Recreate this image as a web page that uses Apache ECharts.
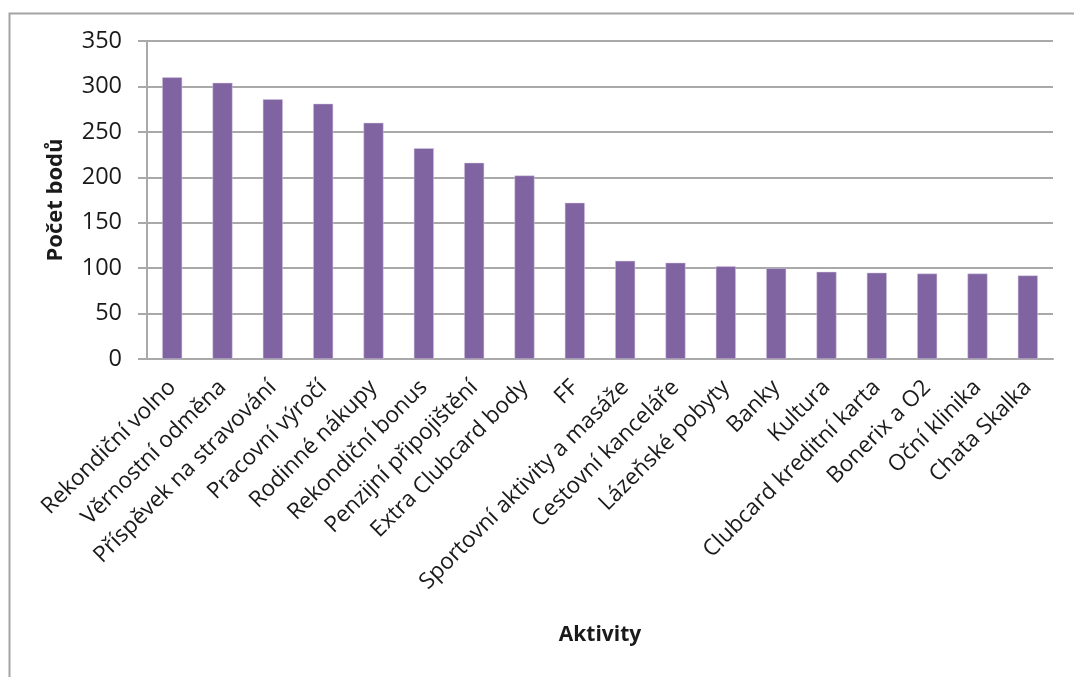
<!DOCTYPE html>
<html>
<head>
<meta charset="utf-8">
<title>Počet bodů podle aktivit</title>
<script src="https://cdn.jsdelivr.net/npm/echarts@6/dist/echarts.min.js"></script>
<style>
  html, body { margin: 0; padding: 0; background: #ffffff; }
  #chart { width: 1074px; height: 677px; }
</style>
</head>
<body>
<div id="chart"></div>
<script>
// Activities and the points each one collected
const categories = [
  'Rekondiční volno',
  'Věrnostní odměna',
  'Příspěvek na stravování',
  'Pracovní výročí',
  'Rodinné nákupy',
  'Rekondiční bonus',
  'Penzijní připojištění',
  'Extra Clubcard body',
  'FF',
  'Sportovní aktivity a masáže',
  'Cestovní kanceláře',
  'Lázeňské pobyty',
  'Banky',
  'Kultura',
  'Clubcard kreditní karta',
  'Bonerix a O2',
  'Oční klinika',
  'Chata Skalka'
];
const points = [310, 304, 286, 281, 260, 232, 216, 202, 172, 108, 106, 102, 100, 96, 95, 94, 94, 92];

// Value axis range
const yMin = 0;
const yMax = 350;
const yStep = 50;

const FONT = '"Open Sans", "Noto Sans", sans-serif';
const GRID_GREY = '#a9a9a9';
const TEXT = '#1a1a1a';

const chart = echarts.init(document.getElementById('chart'));
chart.setOption({
  animation: false,
  backgroundColor: '#ffffff',
  graphic: [{
    type: 'rect',
    left: 7,
    top: 11,
    shape: { width: 1200, height: 800 },
    style: { fill: 'none', stroke: '#a4a4a4', lineWidth: 2 },
    silent: true,
    z: -1
  }],
  grid: { left: 147, right: 21, top: 41, bottom: 318, containLabel: false },
  xAxis: {
    type: 'category',
    data: categories,
    name: 'Aktivity',
    nameLocation: 'middle',
    nameGap: 266,
    nameTextStyle: { fontFamily: FONT, fontSize: 21, fontWeight: 'bold', color: TEXT },
    axisLine: { show: true, lineStyle: { color: GRID_GREY, width: 2 } },
    axisTick: { show: false },
    axisLabel: {
      interval: 0,
      rotate: 45,
      margin: 25,
      fontFamily: FONT,
      fontSize: 22.5,
      color: TEXT
    }
  },
  yAxis: {
    type: 'value',
    min: yMin,
    max: yMax,
    interval: yStep,
    name: 'Počet bodů',
    nameLocation: 'middle',
    nameGap: 80,
    nameTextStyle: { fontFamily: FONT, fontSize: 22, fontWeight: 'bold', color: TEXT },
    axisLine: { show: true, lineStyle: { color: GRID_GREY, width: 2 } },
    axisTick: { show: true, inside: false, length: 9, lineStyle: { color: GRID_GREY, width: 2 } },
    axisLabel: { margin: 25, fontFamily: FONT, fontSize: 23.5, color: TEXT },
    splitLine: { show: true, lineStyle: { color: GRID_GREY, width: 2 } }
  },
  series: [{
    type: 'bar',
    data: points,
    barWidth: 20,
    itemStyle: { color: '#8064a2', borderColor: '#d8cce6', borderWidth: 0.5 }
  }]
});
</script>
</body>
</html>
